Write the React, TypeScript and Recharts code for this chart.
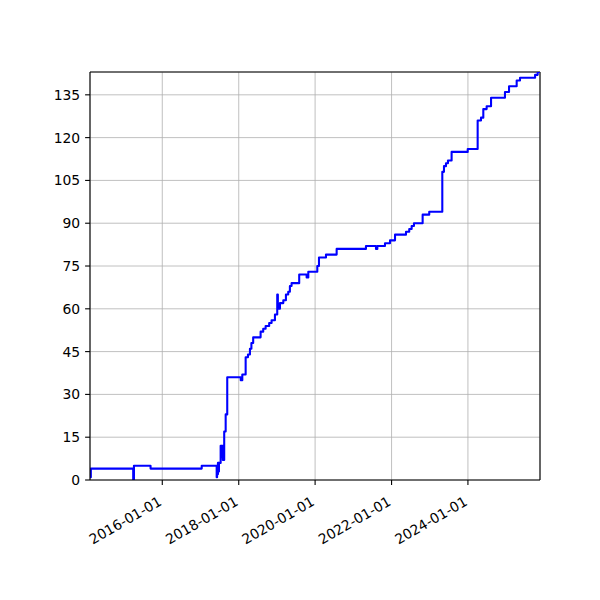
import React from 'react';
import { LineChart, Line, XAxis, YAxis, CartesianGrid, ReferenceLine } from 'recharts';

const dates = [
  '2014-02-09', '2014-02-17', '2015-03-29', '2015-04-05', '2015-09-11', '2017-01-12',
  '2017-06-04', '2017-06-08', '2017-06-12', '2017-06-16', '2017-06-21', '2017-06-26',
  '2017-07-12', '2017-07-18', '2017-07-24', '2017-08-02', '2017-08-15', '2017-08-29',
  '2017-09-13', '2018-01-20', '2018-02-04', '2018-03-08', '2018-03-30', '2018-04-18',
  '2018-05-02', '2018-05-19', '2018-07-29', '2018-08-23', '2018-09-15', '2018-10-19',
  '2018-11-11', '2018-12-13', '2019-01-04', '2019-01-10', '2019-01-30', '2019-03-03',
  '2019-03-28', '2019-04-19', '2019-05-05', '2019-05-21', '2019-08-02', '2019-10-12',
  '2019-10-28', '2020-01-22', '2020-02-07', '2020-04-14', '2020-07-25', '2021-05-01',
  '2021-08-05', '2021-08-18', '2021-10-30', '2021-12-17', '2022-02-03', '2022-05-19',
  '2022-06-19', '2022-07-12', '2022-08-03', '2022-10-25', '2022-12-27', '2023-05-01',
  '2023-05-17', '2023-06-05', '2023-06-24', '2023-07-29', '2023-12-30', '2024-04-03',
  '2024-05-05', '2024-05-27', '2024-06-28', '2024-08-09', '2024-12-20', '2025-01-28',
  '2025-04-11', '2025-05-13', '2025-10-04', '2025-10-29', '2025-11-20',
];

const values = [
  1, 4, 0, 5, 4, 5,
  1, 5, 2, 6, 3, 6,
  12, 8, 12, 7, 17, 23,
  36, 35, 37, 43, 44, 46,
  48, 50, 52, 53, 54, 55,
  56, 58, 65, 60, 62, 63,
  65, 66, 68, 69, 72, 71,
  73, 75, 78, 79, 81, 82,
  81, 82, 83, 84, 86, 87,
  88, 89, 90, 93, 94, 108,
  110, 111, 112, 115, 116, 126,
  127, 130, 131, 134, 136, 138,
  140, 141, 142, 143, 143,
];

const xTickDates = ['2016-01-01', '2018-01-01', '2020-01-01', '2022-01-01', '2024-01-01'];
const yTicks = [0, 15, 30, 45, 60, 75, 90, 105, 120, 135];
const yMax = 143;

const toTime = (d: string) => Date.parse(d + 'T00:00:00Z');
const data = dates.map((d, i) => ({ t: toTime(d), v: values[i] }));
const xTicks = xTickDates.map(toTime);
const lastT = data[data.length - 1].t;
const fmt = (t: number) => new Date(t).toISOString().slice(0, 10);

const FONT = 'DejaVu Sans, sans-serif';
const FS = 13.9;

const XTick = (props: any) => {
  const { x, y, payload } = props;
  const bx = x + 0.4;
  const by = y + 19.5;
  return (
    <text
      x={bx}
      y={by}
      textAnchor="end"
      transform={`rotate(-30, ${bx}, ${by})`}
      fontFamily={FONT}
      fontSize={FS}
      fill="#000"
    >
      {fmt(payload.value)}
    </text>
  );
};

export default function App() {
  return (
    <div style={{ position: 'absolute', left: 0, top: 0, width: 600, height: 600, background: '#fff' }}>
      <LineChart
        width={600}
        height={600}
        data={data}
        margin={{ top: 72, right: 60, bottom: 80, left: 40 }}
      >
        <CartesianGrid stroke="#b0b0b0" strokeWidth={0.8} />
        <XAxis
          dataKey="t"
          type="number"
          scale="linear"
          domain={['dataMin', 'dataMax']}
          ticks={xTicks}
          tick={<XTick />}
          height={40}
          tickSize={4.9}
          tickMargin={0}
          axisLine={{ stroke: '#000', strokeWidth: 1.1 }}
          tickLine={{ stroke: '#000', strokeWidth: 1.1 }}
          interval={0}
          allowDataOverflow
        />
        <YAxis
          type="number"
          domain={[0, yMax]}
          ticks={yTicks}
          width={50}
          tickSize={4.9}
          tickMargin={4.9}
          interval={0}
          allowDataOverflow
          tick={{ fill: '#000', fontFamily: FONT, fontSize: FS }}
          axisLine={{ stroke: '#000', strokeWidth: 1.1 }}
          tickLine={{ stroke: '#000', strokeWidth: 1.1 }}
        />
        <ReferenceLine y={yMax} stroke="#000" strokeWidth={1.1} ifOverflow="extendDomain" />
        <ReferenceLine x={lastT} stroke="#000" strokeWidth={1.1} ifOverflow="extendDomain" />
        <Line
          type="stepAfter"
          dataKey="v"
          stroke="#0000ff"
          strokeWidth={2.08}
          strokeLinejoin="round"
          dot={false}
          activeDot={false}
          isAnimationActive={false}
        />
      </LineChart>
    </div>
  );
}
